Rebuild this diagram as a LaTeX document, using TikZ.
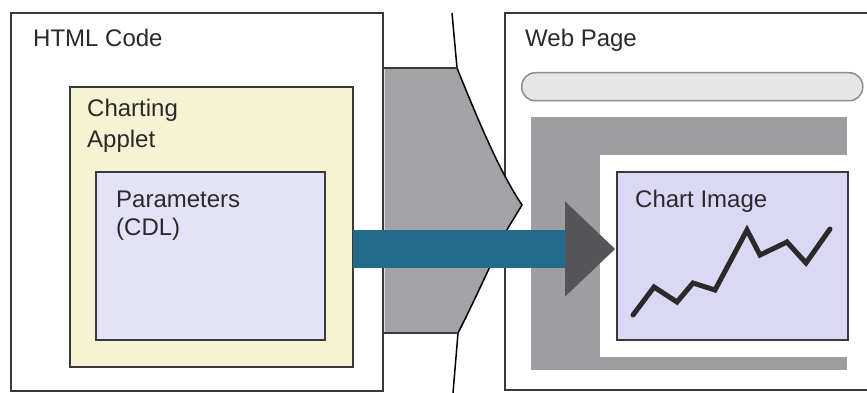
\documentclass[tikz,border=0pt]{standalone}
\usepackage{fontspec}
\setmainfont{Liberation Sans}
\usetikzlibrary{arrows.meta}
\definecolor{boxline}{HTML}{3A3A3A}
\definecolor{appletfill}{HTML}{F6F3D4}
\definecolor{paramfill}{HTML}{E3E2F7}
\definecolor{chartfill}{HTML}{DAD8F5}
\definecolor{framegray}{HTML}{9E9EA2}
\definecolor{barfill}{HTML}{E6E6E6}
\definecolor{barline}{HTML}{8C8C8C}
\definecolor{shapegray}{HTML}{A3A3A7}
\definecolor{teal}{HTML}{226B8B}
\definecolor{headgray}{HTML}{555558}
\definecolor{txt}{HTML}{2A2A2A}
\tikzset{
  outerbox/.style={draw=boxline, line width=1.5pt, fill=white, anchor=north west, inner sep=0pt, outer sep=0pt},
  innerbox/.style={draw=boxline, line width=2pt, anchor=north west, inner sep=0pt, outer sep=0pt},
  lbl/.style={anchor=base west, inner sep=0pt, text=txt, font=\fontsize{24}{30}\selectfont},
  chartline/.style={draw=txt, line width=5pt, line join=miter, line cap=round},
  flow/.style={draw=teal, line width=38pt,
    -{Triangle[length=50pt, width=95pt, line width=0.1pt, color=headgray, fill=headgray]}}
}
\begin{document}
\begin{tikzpicture}[x=1pt, y=-1pt]
\useasboundingbox (0,0) rectangle (867,393);
\fill[white] (0,0) rectangle (867,393);

% outer boxes
\node[outerbox, minimum width=372pt, minimum height=378pt] (html) at (11,13) {};
\node[outerbox, minimum width=370pt, minimum height=377pt] (web) at (505,13) {};

% big gray transfer shape
\fill[shapegray] (384.5,68) -- (457,68) .. controls (480,125) and (500,172) .. (522,205)
  -- (508,228) .. controls (495,255) and (475,300) .. (458,333) -- (384.5,333) -- cycle;
\draw[black, line width=1.5pt, line join=miter] (452,13) -- (457,68) .. controls (480,125) and (500,172) .. (522,205)
  -- (508,228) .. controls (495,255) and (475,300) .. (458,333) -- (453,393);
\draw[boxline, line width=2pt] (384,68) -- (457,68) (384,333) -- (458,333);

% web page contents
\node[draw=barline, fill=barfill, line width=1.5pt, rounded corners=13.5pt, anchor=north west,
  minimum width=341pt, minimum height=28pt, inner sep=0pt] (bar) at (521,72) {};
\node[fill=framegray, anchor=north west, minimum width=316pt, minimum height=253pt, inner sep=0pt] (frame) at (531,117) {};
\node[fill=white, anchor=north west, minimum width=252pt, minimum height=202pt, inner sep=0pt] (hole) at (600,155) {};
\node[innerbox, fill=chartfill, minimum width=231pt, minimum height=168pt] (chart) at (617,172) {};

% html contents
\node[innerbox, fill=appletfill, minimum width=283pt, minimum height=280pt] (applet) at (70,87) {};
\node[innerbox, fill=paramfill, minimum width=229pt, minimum height=168pt] (params) at (96,172) {};

% flow arrow
\coordinate (fstart) at (applet.east |- 0,249);
\coordinate (fend) at (615,249);
\draw[flow] (fstart) -- (fend);

% chart polyline
\draw[chartline] (633,315) -- (654,287) -- (677,302) -- (693,283) -- (715,290) -- (747,230)
  -- (760,255) -- (787,242) -- (806,263) -- (830,229);

% labels
\node[lbl] (htmllbl) at (33,47) {HTML Code};
\node[lbl] (applbl1) at (87,117) {Charting};
\node[lbl] (applbl2) at (87,147) {Applet};
\node[lbl] (parlbl1) at (116,207) {Parameters};
\node[lbl] (parlbl2) at (116,235) {(CDL)};
\node[lbl] (weblbl) at (525,47) {Web Page};
\node[lbl] (chartlbl) at (635,207) {Chart Image};
\end{tikzpicture}
\end{document}
